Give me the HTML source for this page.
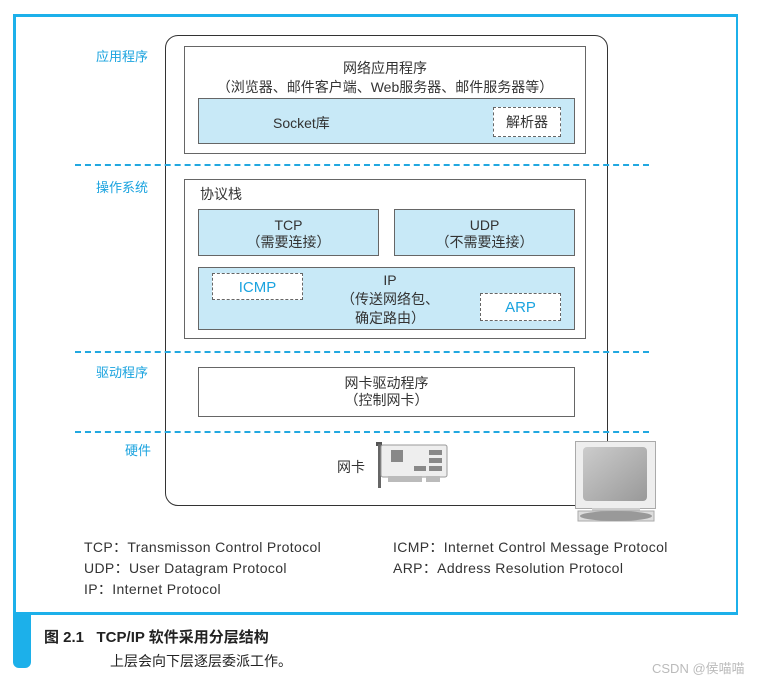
<!DOCTYPE html>
<html><head><meta charset="utf-8"><style>
body{margin:0;width:757px;height:680px;background:#fff;position:relative;overflow:hidden;font-family:"Liberation Sans","Noto Sans CJK SC",sans-serif;color:#333}
.a{position:absolute;box-sizing:border-box}
.t{position:absolute;white-space:nowrap;font-size:14px;color:#333}
.c{text-align:center;line-height:17px}
.blue{background:#c8e9f7;border:1.5px solid #666}
.w{background:#fff;border:1.5px solid #666}
.dash{background:#fff;border:1.5px dashed #666}
.hr{position:absolute;height:0;border-top:2px dashed #22a8e0}
.lab{position:absolute;color:#1aa3df;font-size:13px}
.lg{font-size:14px;letter-spacing:0.35px}
</style></head><body>
<div class="a" style="left:13px;top:14px;width:725px;height:601px;border:3px solid #1cb0ea;border-right-width:2px"></div>
<div class="a" style="left:13px;top:612px;width:18px;height:56px;background:#1cb0ea;border-radius:0 0 6px 6px"></div>

<div class="a" style="left:165px;top:35px;width:443px;height:471px;border:1.5px solid #333;border-radius:13px"></div>

<div class="lab" style="left:96px;top:46px">应用程序</div>
<div class="lab" style="left:96px;top:177px">操作系统</div>
<div class="lab" style="left:96px;top:362px">驱动程序</div>
<div class="lab" style="left:125px;top:440px">硬件</div>

<div class="a w" style="left:184px;top:46px;width:402px;height:108px"></div>
<div class="t c" style="left:184px;top:59px;width:402px;line-height:19px">网络应用程序<br>（浏览器、邮件客户端、Web服务器、邮件服务器等）</div>
<div class="a blue" style="left:198px;top:98px;width:377px;height:46px"></div>
<div class="t" style="left:273px;top:113px">Socket库</div>
<div class="a dash" style="left:493px;top:107px;width:68px;height:30px"></div>
<div class="t c" style="left:493px;top:114px;width:68px">解析器</div>

<div class="hr" style="left:75px;top:164px;width:574px"></div>

<div class="a w" style="left:184px;top:179px;width:402px;height:160px"></div>
<div class="t" style="left:200px;top:184px">协议栈</div>
<div class="a blue" style="left:198px;top:209px;width:181px;height:47px"></div>
<div class="t c" style="left:198px;top:217px;width:181px">TCP<br>（需要连接）</div>
<div class="a blue" style="left:394px;top:209px;width:181px;height:47px"></div>
<div class="t c" style="left:394px;top:217px;width:181px">UDP<br>（不需要连接）</div>
<div class="a blue" style="left:198px;top:267px;width:377px;height:63px"></div>
<div class="t c" style="left:300px;top:271px;width:180px;line-height:19px">IP<br>（传送网络包、<br>确定路由）</div>
<div class="a dash" style="left:212px;top:273px;width:91px;height:27px"></div>
<div class="t c" style="left:212px;top:279px;width:91px;color:#1aa3df;font-size:15px">ICMP</div>
<div class="a dash" style="left:480px;top:293px;width:81px;height:28px"></div>
<div class="t c" style="left:480px;top:299px;width:81px;color:#1aa3df;font-size:15px">ARP</div>

<div class="hr" style="left:75px;top:351px;width:574px"></div>

<div class="a w" style="left:198px;top:367px;width:377px;height:50px"></div>
<div class="t c" style="left:198px;top:375px;width:377px">网卡驱动程序<br>（控制网卡）</div>

<div class="hr" style="left:75px;top:431px;width:574px"></div>

<div class="t" style="left:337px;top:457px">网卡</div>
<svg class="a" style="left:374px;top:440px" width="80" height="52">
<rect x="2" y="2" width="6" height="4" fill="#555"/>
<rect x="4" y="4" width="3" height="44" fill="#666"/>
<rect x="7" y="5" width="66" height="32" rx="2" fill="#eee" stroke="#999"/>
<rect x="14" y="36" width="34" height="6" fill="#bbb"/>
<rect x="52" y="36" width="14" height="6" fill="#bbb"/>
<rect x="17" y="10" width="12" height="12" fill="#888"/>
<rect x="55" y="10" width="13" height="5" fill="#888"/>
<rect x="55" y="18" width="13" height="5" fill="#888"/>
<rect x="55" y="26" width="13" height="5" fill="#888"/>
<rect x="40" y="26" width="12" height="5" fill="#888"/>
</svg>

<svg class="a" style="left:574px;top:440px" width="84" height="84">
<rect x="1.5" y="1.5" width="80" height="67" fill="#eee" stroke="#aaa"/>
<defs><linearGradient id="g" x1="0" y1="0" x2="1" y2="1"><stop offset="0" stop-color="#ccc"/><stop offset="1" stop-color="#999"/></linearGradient></defs>
<rect x="9" y="7" width="64" height="54" rx="4" fill="url(#g)"/>
<rect x="18" y="68" width="48" height="4" fill="#ccc"/>
<rect x="4" y="71" width="76" height="10" fill="#ddd" stroke="#aaa"/>
<ellipse cx="42" cy="76" rx="36" ry="5" fill="#999"/>
</svg>

<div class="t lg" style="left:84px;top:537px">TCP：Transmisson Control Protocol</div>
<div class="t lg" style="left:84px;top:558px">UDP：User Datagram Protocol</div>
<div class="t lg" style="left:84px;top:579px">IP：Internet Protocol</div>
<div class="t lg" style="left:393px;top:537px">ICMP：Internet Control Message Protocol</div>
<div class="t lg" style="left:393px;top:558px">ARP：Address Resolution Protocol</div>

<div class="t" style="left:44px;top:626px;font-size:15px;font-weight:bold;color:#222">图 2.1&nbsp;&nbsp;&nbsp;TCP/IP 软件采用分层结构</div>
<div class="t" style="left:110px;top:651px;font-size:14px;color:#222">上层会向下层逐层委派工作。</div>
<div class="t" style="left:652px;top:658px;font-size:13px;color:#bbb">CSDN @侯喵喵</div>
</body></html>
